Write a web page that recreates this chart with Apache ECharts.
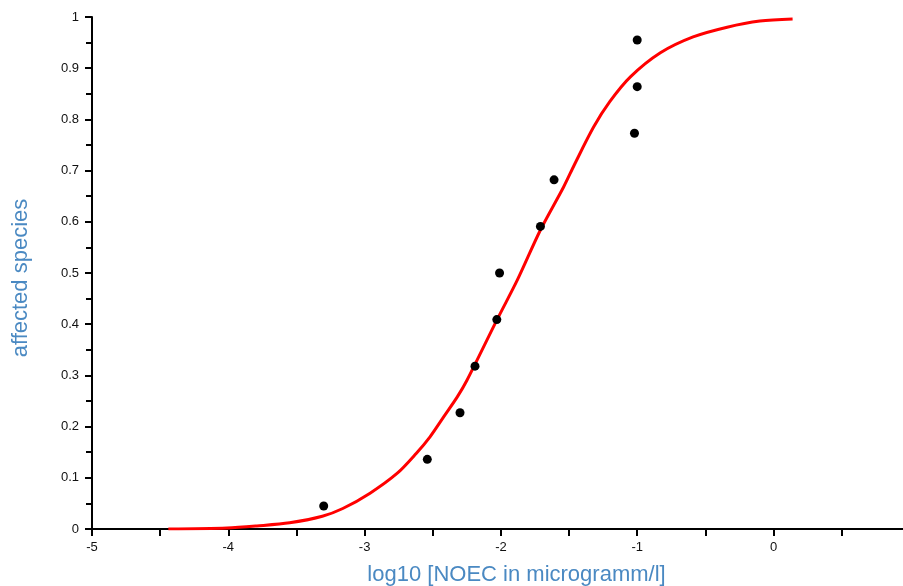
<!DOCTYPE html>
<html>
<head>
<meta charset="utf-8">
<script src="https://cdn.jsdelivr.net/npm/echarts@6/dist/echarts.min.js"></script>
<style>
    html,body{margin:0;padding:0;background:#fff;}
    #chart{width:903px;height:586px;}
</style>
</head>
<body>
<div id="chart"></div>
<script>
// measured NOEC values (log10) and their plotting positions
const noecX = [-3.30, -2.54, -2.30, -2.19, -2.03, -2.01, -1.71, -1.61, -1.02, -1.00, -1.00]
const affectedY = [0.045, 0.136, 0.227, 0.318, 0.409, 0.5, 0.591, 0.682, 0.773, 0.864, 0.955]

// fitted curve
const curveX = [-4.44, -4.01, -3.79, -3.55, -3.31, -3.16, -2.96, -2.76, -2.62, -2.52, -2.42, -2.32, -2.25,
    -2.03, -1.88, -1.71, -1.54, -1.46, -1.32, -1.20, -1.05, -0.83, -0.59, -0.34, -0.10, 0.14]
const curveY = [0.000, 0.002, 0.006, 0.012, 0.025, 0.040, 0.070, 0.109, 0.148, 0.180, 0.219, 0.258, 0.290,
    0.408, 0.486, 0.584, 0.668, 0.712, 0.785, 0.835, 0.883, 0.930, 0.961, 0.980, 0.992, 0.996]

const xLabels = [-5, -4, -3, -2, -1, 0]
const xTicks = [-5, -4.5, -4, -3.5, -3, -2.5, -2, -1.5, -1, -0.5, 0, 0.5]

let pts = noecX.map((x, i) => [x, affectedY[i]])
let curve = curveX.map((x, i) => [x, curveY[i]])

let chart = echarts.init(document.getElementById('chart'))
let titleColor = '#4a89c2'
let option = {
    animation: false,
    grid: {
        left: 92,
        right: 0,
        top: 17,
        bottom: 57,
        containLabel: false,
        outerBoundsMode: 'none'
    },
    xAxis: {
        type: 'value',
        min: -5,
        max: 0.95,
        name: 'log10 [NOEC in microgramm/l]',
        nameLocation: 'middle',
        nameGap: 35,
        nameTextStyle: {
            color: titleColor,
            fontSize: 22,
            fontFamily: 'Liberation Sans',
            padding: [0, 0, 0, 38]
        },
        axisLine: { onZero: false, lineStyle: { color: '#000', width: 2 } },
        axisTick: { customValues: xTicks, length: 7, lineStyle: { color: '#000', width: 2 } },
        axisLabel: { customValues: xLabels, color: '#111', fontSize: 13, fontFamily: 'Liberation Sans', margin: 12 },
        splitLine: { show: false }
    },
    yAxis: {
        type: 'value',
        min: 0,
        max: 1,
        interval: 0.1,
        name: 'affected species',
        nameLocation: 'middle',
        nameGap: 60,
        nameTextStyle: {
            color: titleColor,
            fontSize: 22,
            fontFamily: 'Liberation Sans',
            padding: [0, 10, 0, 0]
        },
        axisLine: { show: true, onZero: false, lineStyle: { color: '#000', width: 2 } },
        axisTick: { show: true, length: 7, lineStyle: { color: '#000', width: 2 } },
        minorTick: { show: true, splitNumber: 2, length: 6, lineStyle: { color: '#000', width: 2 } },
        axisLabel: { color: '#111', fontSize: 13, fontFamily: 'Liberation Sans', margin: 13 },
        splitLine: { show: false }
    },
    series: [
        {
            type: 'line',
            data: curve,
            smooth: 0.3,
            showSymbol: false,
            lineStyle: { color: '#ff0000', width: 3 },
            z: 2
        },
        {
            type: 'scatter',
            data: pts,
            symbolSize: 9,
            itemStyle: { color: '#000', opacity: 1 },
            z: 3
        }
    ]
}
chart.setOption(option)
</script>
</body>
</html>
